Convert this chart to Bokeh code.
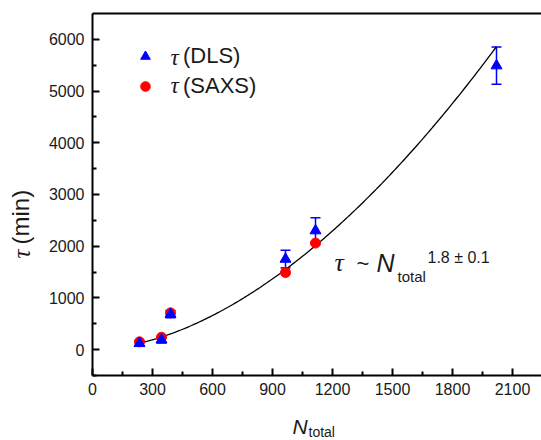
import numpy as np
from bokeh.plotting import figure
from bokeh.models import (ColumnDataSource, Whisker, TeeHead, Label, Legend,
                          LegendItem, LinearAxis, FixedTicker, Range1d)
from bokeh.embed import file_html
from bokeh.resources import INLINE

# Relaxation time versus total aggregation number
n_dls = [235, 345, 390, 965, 1115, 2020]
tau_dls = [120, 190, 685, 1750, 2300, 5490]
err_dls = [45, 60, 70, 170, 250, 360]

n_saxs = [235, 345, 390, 965, 1115]
tau_saxs = [150, 240, 710, 1490, 2060]

# Power-law fit tau = A * N^alpha
fit_prefactor = 0.00658
fit_exponent = 1.8
fit_n_min, fit_n_max = 235, 2020

x_ticks = [0, 300, 600, 900, 1200, 1500, 1800, 2100]
x_minor = [150, 450, 750, 1050, 1350, 1650, 1950]
y_ticks = [0, 1000, 2000, 3000, 4000, 5000, 6000]
y_minor = [-500, 500, 1500, 2500, 3500, 4500, 5500]

X_BOUNDS = (0, 2245)
Y_BOUNDS = (-500, 6500)

SANS = "Liberation Sans"
SERIF = "Liberation Serif"
BLUE = "#0000ff"
RED = "#ff0000"
INK = "#1a1a1a"

# The frame covers the whole canvas; the axes are pinned inside it so the
# axis titles can sit in the same layer as the plot.
W, H = 541, 440
X0_PX, X_SCALE = 92.0, 0.2          # px of N=0, px per unit N
Y0_PX, Y_SCALE = 349.1, 362.0 / 7000  # px (from top) of tau=0, px per unit tau

p = figure(width=W, height=H, output_backend="svg", toolbar_location=None,
           x_range=Range1d(-X0_PX / X_SCALE, (W - X0_PX) / X_SCALE),
           y_range=Range1d(-(H - Y0_PX) / Y_SCALE, Y0_PX / Y_SCALE),
           min_border=0)
p.outline_line_color = None
p.grid.visible = False
p.background_fill_color = "white"
p.border_fill_color = "white"

p.xaxis.fixed_location = Y_BOUNDS[0]
p.xaxis.bounds = X_BOUNDS
p.yaxis.fixed_location = X_BOUNDS[0]
p.yaxis.bounds = Y_BOUNDS

for ax, ticks, minor in ((p.xaxis[0], x_ticks, x_minor), (p.yaxis[0], y_ticks, y_minor)):
    ax.ticker = FixedTicker(ticks=ticks, minor_ticks=minor)
    ax.axis_line_width = 2
    ax.axis_line_color = "black"
    ax.major_tick_in = 7
    ax.major_tick_out = 0
    ax.minor_tick_in = 4
    ax.minor_tick_out = 0
    ax.major_tick_line_width = 2
    ax.minor_tick_line_width = 2
    ax.major_label_text_font = SANS
    ax.major_label_text_font_size = "16px"
    ax.major_label_text_color = INK
    ax.major_label_standoff = 8

# top frame line
top = LinearAxis(ticker=FixedTicker(ticks=[]), major_label_text_font_size="0px",
                 major_tick_in=0, major_tick_out=0, minor_tick_in=0, minor_tick_out=0,
                 axis_line_width=2, axis_line_color="black",
                 fixed_location=Y_BOUNDS[1], bounds=X_BOUNDS)
p.add_layout(top, "above")

# fit curve
n_fit = np.linspace(fit_n_min, fit_n_max, 200)
p.line(n_fit, fit_prefactor * n_fit ** fit_exponent, line_color="black", line_width=1.3)

src_dls = ColumnDataSource(dict(n=n_dls, tau=tau_dls,
                                lo=[t - e for t, e in zip(tau_dls, err_dls)],
                                hi=[t + e for t, e in zip(tau_dls, err_dls)]))
src_saxs = ColumnDataSource(dict(n=n_saxs, tau=tau_saxs))

r_saxs = p.scatter("n", "tau", source=src_saxs, marker="circle", size=10,
                   fill_color=RED, line_color=RED)
r_dls = p.scatter("n", "tau", source=src_dls, marker="triangle", size=11,
                  fill_color=BLUE, line_color=BLUE)
p.add_layout(Whisker(source=src_dls, base="n", upper="hi", lower="lo",
                     line_color=BLUE, line_width=1.5,
                     upper_head=TeeHead(size=10, line_color=BLUE, line_width=1.5),
                     lower_head=TeeHead(size=10, line_color=BLUE, line_width=1.5)))

# legend
legend = Legend(items=[LegendItem(label="(DLS)", renderers=[r_dls]),
                       LegendItem(label="(SAXS)", renderers=[r_saxs])],
                location=(41 + X0_PX, H - 99), padding=0, margin=0, spacing=4,
                glyph_width=24, glyph_height=24, label_standoff=26,
                label_text_font=SANS, label_text_font_size="22px",
                label_text_color=INK, border_line_alpha=0,
                background_fill_alpha=0)
p.add_layout(legend, "center")


def lab(text, cx, cy, font=SANS, size=16, style="normal", angle=0.0):
    # cx, cy: canvas pixel coordinates (origin top-left) of the text baseline;
    # the label is anchored on its vertical middle, so lift it by ~0.3 em
    shift = 0.3 * size
    if angle:
        x, y = cx - shift, H - cy
    else:
        x, y = cx, H - (cy - shift)
    p.add_layout(Label(x=x, y=y, x_units="screen", y_units="screen",
                       text=text, text_font=font, text_font_size=f"{size}px",
                       text_font_style=style, text_color=INK,
                       text_baseline="alphabetic", angle=angle))


# legend symbols
lab("τ", 170, 64, SERIF, 23, "italic")
lab("τ", 170, 92, SERIF, 23, "italic")

# power-law annotation
lab("τ", 334, 270, SERIF, 26, "italic")
lab("~", 356, 270, SANS, 22)
lab("N", 376, 270, SANS, 25, "italic")
lab("total", 397, 280, SANS, 15)
lab("1.8 ± 0.1", 427, 262, SANS, 16)

# axis titles
lab("N", 292, 432, SANS, 21, "italic")
lab("total", 308, 436, SANS, 14)
lab("τ", 28, 258, SERIF, 25, "italic", np.pi / 2)
lab("(min)", 27, 244, SANS, 24, "normal", np.pi / 2)

open("out.html", "w").write(file_html(p, INLINE))
